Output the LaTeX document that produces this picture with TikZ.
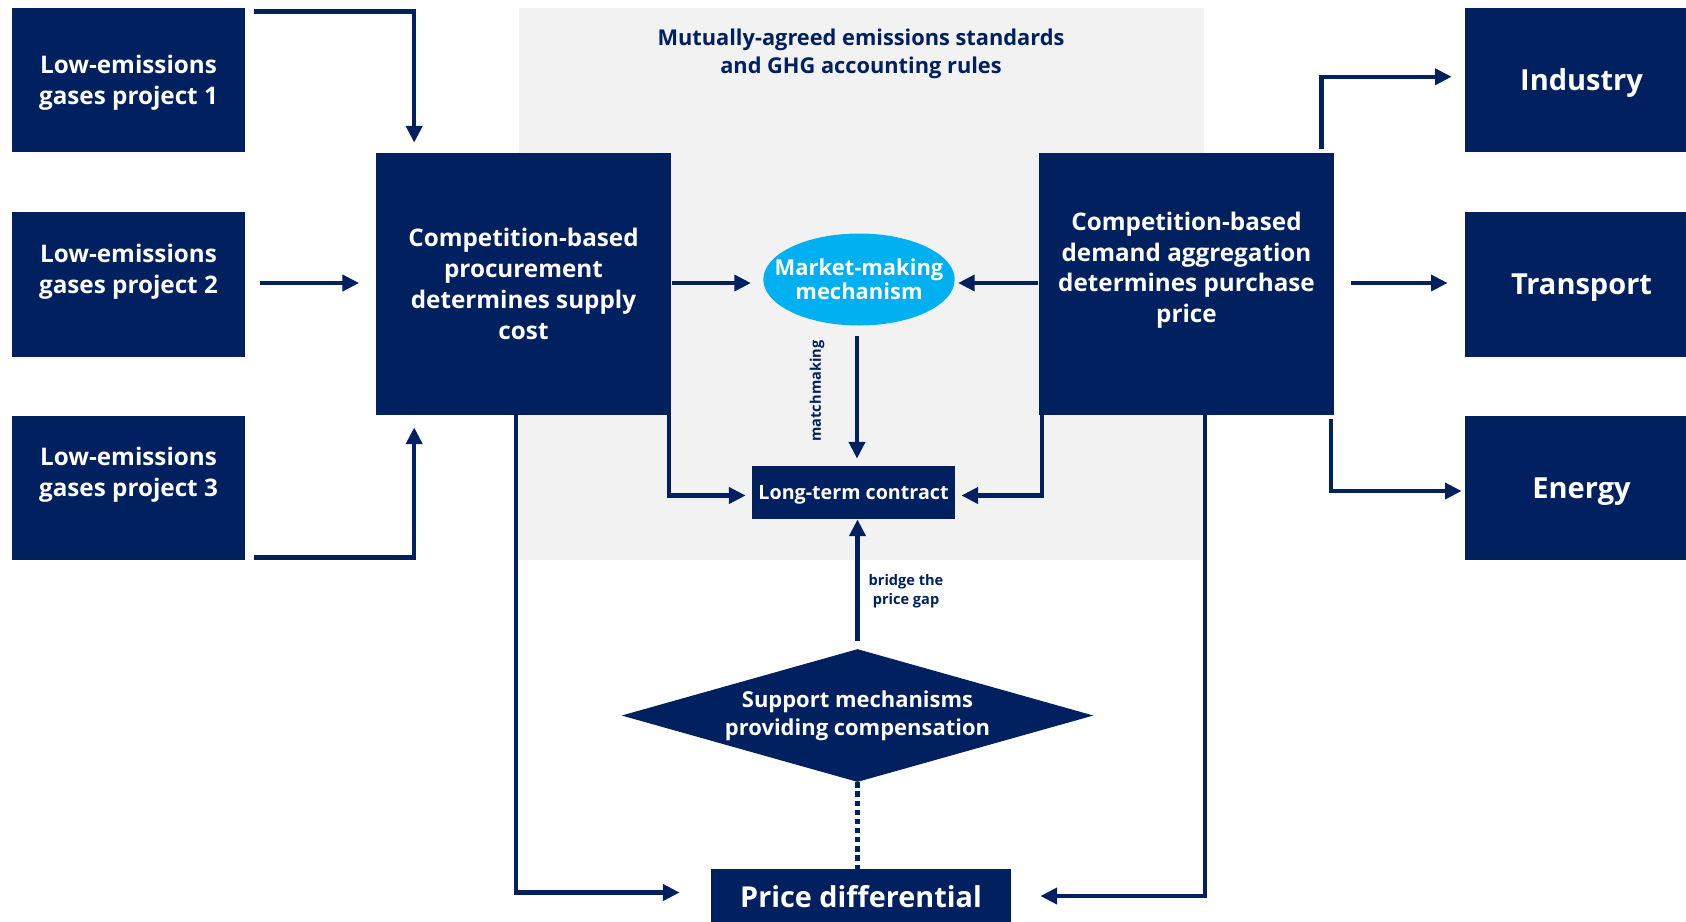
\documentclass[tikz,border=0pt]{standalone}
\usepackage{fontspec}
\setmainfont{Open Sans}
\usetikzlibrary{positioning,shapes.geometric,calc,arrows.meta}
\definecolor{navy}{HTML}{002060}
\definecolor{mmcyan}{HTML}{00B0F0}
\definecolor{panelgray}{HTML}{F2F2F2}

\begin{document}
\begin{tikzpicture}[x=0.02cm, y=-0.02cm,
  box/.style={rectangle, fill=navy, text=white, inner sep=0pt, align=center,
    font=\bfseries\fontsize{13.8}{17.6}\selectfont},
  srcbox/.style={box, minimum width=4.66cm, minimum height=2.89cm},
  sectorbox/.style={box, minimum width=4.66cm, minimum height=2.89cm, text depth=0pt,
    font=\bfseries\fontsize{16.5}{19}\selectfont},
  bigbox/.style={box, minimum width=5.92cm, minimum height=5.24cm},
  flow/.style={draw=navy, line width=2.5pt, -{Triangle[length=9.5pt,width=9pt]}},
  note/.style={text=navy, align=center, font=\bfseries\fontsize{8.3}{11}\selectfont}
]
	\useasboundingbox (0,0) rectangle (1686,921);
	\clip (0,0) rectangle (1686,921);

	% shared standards panel
	\node [fill=panelgray, minimum width=13.7cm, minimum height=11.05cm, inner sep=0pt] (panel) at (861.5,283.75) {};
	\node [text=navy, align=center, font=\bfseries\fontsize{12.4}{15.9}\selectfont] (rules) at (861,54)
		{Mutually-agreed emissions standards\\and GHG accounting rules};

	% supply side
	\node [srcbox, text depth=0pt] (p1) at (128.5,79.75) {Low-emissions\\gases project 1};
	\node [srcbox, text depth=18pt] (p2) at (128.5,284.5) {Low-emissions\\gases project 2};
	\node [srcbox, text depth=18pt] (p3) at (128.5,488) {Low-emissions\\gases project 3};
	\node [bigbox] (proc) at (523.5,284) {Competition-based\\procurement\\determines supply\\cost};

	% demand side
	\node [bigbox, text depth=19pt] (dem) at (1186.5,284) {Competition-based\\demand aggregation\\determines purchase\\price};
	\node [sectorbox] (ind) at (1581.5,79.75) {Industry};
	\node [sectorbox] (trn) at (1581.5,284.5) {Transport};
	\node [sectorbox] (eng) at (1581.5,488) {Energy};

	% middle
	\node [ellipse, fill=mmcyan, text=white, inner xsep=-9.5pt, inner ysep=7pt, align=center,
		font=\bfseries\fontsize{12.5}{13.4}\selectfont] (mm) at (859,279.5) {Market-making\\mechanism};
	\node [box, minimum width=4.06cm, minimum height=1.06cm, text depth=0pt,
		font=\bfseries\fontsize{11.2}{13}\selectfont] (ltc) at (853.5,492.5) {Long-term contract};
	\node [diamond, fill=navy, text=white, aspect=3.55, inner sep=0pt, minimum width=9.44cm, minimum height=2.66cm, align=center,
		font=\bfseries\fontsize{12.5}{15.9}\selectfont] (sup) at (857.5,715.5) {Support mechanisms\\providing compensation};
	\node [box, minimum width=6cm, minimum height=1.12cm, font=\bfseries\fontsize{16.4}{19}\selectfont] (price) at (861,897) {Price differential};

	\node [note, rotate=90] (match) at (817,391) {matchmaking};
	\node [note] (gap) at (906,591) {bridge the\\price gap};

	% projects into procurement
	\draw [flow] ($(p1.north east)+(9,4.5)$) -| ($(proc.north west)+(39,-10)$);
	\draw [flow] ($(p2.east)+(15,-1.5)$) -- ($(proc.west)+(-16,-1)$);
	\draw [flow] ($(p3.south east)+(9,-3)$) -| ($(proc.south west)+(39,12)$);

	% into the market-making mechanism and the contract
	\draw [flow] ($(proc.east)+(0,-1)$) -- ($(proc.east -| mm.west)+(-12,-1)$);
	\draw [flow] ($(dem.west)+(0,-1)$) -- ($(dem.west -| mm.east)+(3,-1)$);
	\draw [flow] ($(mm.south)+(-2,10)$) -- ($(mm.south |- ltc.north)+(-2,-7)$);
	\draw [flow] ($(proc.south east)+(-3,0)$) |- ($(ltc.west)+(-6,3)$);
	\draw [flow] ($(dem.south west)+(4,0)$) |- ($(ltc.east)+(6,3)$);
	\draw [flow] ($(sup.north)+(0,-8)$) -- (sup.north |- ltc.south);
	\draw [draw=navy, line width=2.5pt, dash pattern=on 3pt off 2.2pt] (sup.south) -- (sup.south |- price.north);

	% price gap
	\draw [flow] ($(proc.south)+(-7.5,0)$) |- ($(price.west)+(-31,-4.5)$);
	\draw [flow] ($(dem.south)+(18.5,0)$) |- ($(price.east)+(29,-1)$);

	% offtake sectors
	\draw [flow] ($(dem.north east)+(-13.5,-4)$) |- ($(ind.west)+(-13,-3)$);
	\draw [flow] ($(dem.east)+(16,-1)$) -- ($(trn.west)+(-17,-1.5)$);
	\draw [flow] ($(dem.south east)+(-4,4)$) |- ($(eng.west)+(-3,3)$);
\end{tikzpicture}
\end{document}
